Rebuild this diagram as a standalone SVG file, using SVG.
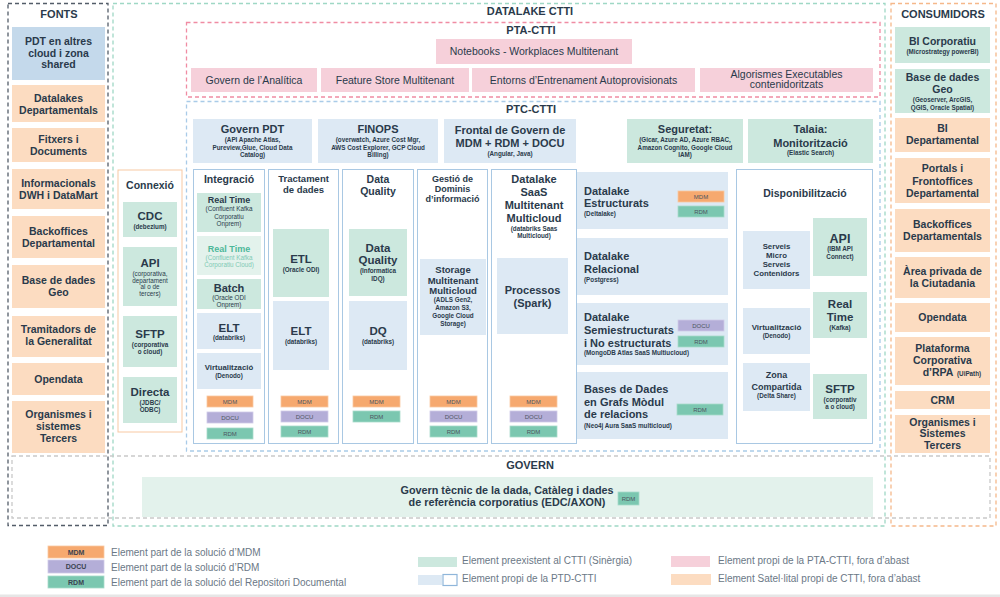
<svg xmlns="http://www.w3.org/2000/svg" width="1000" height="597" viewBox="0 0 1000 597">
<style>
text{font-family:'Liberation Sans',Arial,sans-serif;fill:#2a3a4b;text-anchor:middle}
.h{font-weight:bold;font-size:10.5px}
.h11{font-weight:bold;font-size:11px}
.h9{font-weight:bold;font-size:9px}
.h8{font-weight:bold;font-size:7.8px}
.big{font-weight:bold;font-size:11.5px}
.n{font-size:10.5px}
.s{font-weight:bold;font-size:6.3px}
.sn{font-size:6.3px}
.st{text-anchor:start}
.lg{font-size:10px;fill:#6b7886;text-anchor:start}
.tg{font-size:6px;fill:#4d5560}
.tgl{font-size:7px;font-weight:bold;fill:#3a4350}
.bl{fill:#dde9f4}
.gr{fill:#cce8de}
.lgr{fill:#e3f2ec}
.pk{fill:#f6d0da}
.or{fill:#fcdcc1}
.col{fill:#fff;stroke:#a9c8e3;stroke-width:1}
.mdm{fill:#f6a96f;stroke:#f9c8a0;stroke-width:0.8}
.docu{fill:#b4aed8;stroke:#d0cbe8;stroke-width:0.8}
.rdm{fill:#7bc7b0;stroke:#a8dbcb;stroke-width:0.8}
.d{fill:none;stroke-width:1.3;stroke-dasharray:4 3}
</style>
<rect x="0" y="0" width="1000" height="597" fill="#ffffff"/>
<rect x="0" y="594.5" width="1000" height="2.5" fill="#e6e6e6"/>

<!-- frames -->
<g id="frames">
<rect class="d" x="8" y="3.5" width="100" height="522" stroke="#535d69"/>
<rect class="d" x="113" y="3.5" width="772" height="522.5" stroke="#9fd8c5"/>
<rect class="d" x="891" y="3.5" width="105" height="522.5" stroke="#f5b88a"/>
<rect class="d" x="186.5" y="22.5" width="693.5" height="74.5" stroke="#f08ca3"/>
<rect class="d" x="186.5" y="101.5" width="693.5" height="349.5" stroke="#a9cbe8"/>
<rect class="d" x="12" y="456" width="978" height="62" stroke="#c9c9c9"/>
<text class="h11" x="59" y="18">FONTS</text>
<text class="h11" x="530" y="15">DATALAKE CTTI</text>
<text class="h11" x="943" y="18">CONSUMIDORS</text>
<text class="h11" x="531" y="34">PTA-CTTI</text>
<text class="h11" x="531" y="113">PTC-CTTI</text>
<text class="h11" x="530" y="469">GOVERN</text>
</g>

<!-- FONTS -->
<g id="f-pdt"><rect x="12" y="27" width="93" height="53" fill="#c4d9eb"/><text class="h"><tspan x="58.5" y="45">PDT en altres</tspan><tspan x="58.5" y="57">cloud i zona</tspan><tspan x="58.5" y="68">shared</tspan></text></g>
<g id="f-datalakes"><rect class="or" x="12" y="85" width="93" height="37"/><text class="h"><tspan x="58.5" y="102">Datalakes</tspan><tspan x="58.5" y="114">Departamentals</tspan></text></g>
<g id="f-fitxers"><rect class="or" x="12" y="128" width="93" height="34"/><text class="h"><tspan x="58.5" y="143">Fitxers i</tspan><tspan x="58.5" y="155">Documents</tspan></text></g>
<g id="f-informacionals"><rect class="or" x="12" y="169" width="93" height="40"/><text class="h"><tspan x="58.5" y="187">Informacionals</tspan><tspan x="58.5" y="199">DWH i DataMart</tspan></text></g>
<g id="f-backoffices"><rect class="or" x="12" y="216" width="93" height="42"/><text class="h"><tspan x="58.5" y="235">Backoffices</tspan><tspan x="58.5" y="247">Departamental</tspan></text></g>
<g id="f-geo"><rect class="or" x="12" y="265" width="93" height="43"/><text class="h"><tspan x="58.5" y="284">Base de dades</tspan><tspan x="58.5" y="296">Geo</tspan></text></g>
<g id="f-tramitadors"><rect class="or" x="12" y="316" width="93" height="41"/><text class="h"><tspan x="58.5" y="333">Tramitadors de</tspan><tspan x="58.5" y="345">la Generalitat</tspan></text></g>
<g id="f-opendata"><rect class="or" x="12" y="363" width="93" height="32"/><text class="h" x="58.5" y="383">Opendata</text></g>
<g id="f-organismes"><rect class="or" x="12" y="401" width="93" height="52"/><text class="h"><tspan x="58.5" y="418">Organismes i</tspan><tspan x="58.5" y="430">sistemes</tspan><tspan x="58.5" y="442">Tercers</tspan></text></g>

<!-- CONSUMIDORS -->
<g id="c-bicorp"><rect class="gr" x="895" y="27" width="95" height="36"/><text class="h" x="942.5" y="45">BI Corporatiu</text><text class="s" x="942.5" y="54">(Microstrategy powerBI)</text></g>
<g id="c-geo"><rect class="gr" x="895" y="69" width="95" height="44"/><text class="h"><tspan x="942.5" y="81">Base de dades</tspan><tspan x="942.5" y="93">Geo</tspan></text><text class="s"><tspan x="942.5" y="102">(Geoserver, ArcGIS,</tspan><tspan x="942.5" y="110">QGIS, Oracle Spatial)</tspan></text></g>
<g id="c-bidep"><rect class="or" x="895" y="118" width="95" height="34"/><text class="h"><tspan x="942.5" y="132">BI</tspan><tspan x="942.5" y="144">Departamental</tspan></text></g>
<g id="c-portals"><rect class="or" x="895" y="158" width="95" height="45"/><text class="h"><tspan x="942.5" y="172">Portals i</tspan><tspan x="942.5" y="185">Frontoffices</tspan><tspan x="942.5" y="197">Departamental</tspan></text></g>
<g id="c-backoffices"><rect class="or" x="895" y="209" width="95" height="43"/><text class="h"><tspan x="942.5" y="228">Backoffices</tspan><tspan x="942.5" y="240">Departamentals</tspan></text></g>
<g id="c-area"><rect class="or" x="895" y="257" width="95" height="41"/><text class="h"><tspan x="942.5" y="275">Àrea privada de</tspan><tspan x="942.5" y="287">la Ciutadania</tspan></text></g>
<g id="c-opendata"><rect class="or" x="895" y="303" width="95" height="29"/><text class="h" x="942.5" y="321">Opendata</text></g>
<g id="c-rpa"><rect class="or" x="895" y="337" width="95" height="48"/><text class="h"><tspan x="942.5" y="352">Plataforma</tspan><tspan x="942.5" y="364">Corporativa</tspan><tspan x="938" y="376">d’RPA </tspan></text><text class="s st" x="957" y="376">(UiPath)</text></g>
<g id="c-crm"><rect class="or" x="895" y="391" width="95" height="18"/><text class="h" x="942.5" y="404">CRM</text></g>
<g id="c-organismes"><rect class="or" x="895" y="415" width="95" height="38"/><text class="h"><tspan x="942.5" y="426">Organismes i</tspan><tspan x="942.5" y="437">Sistemes</tspan><tspan x="942.5" y="449">Tercers</tspan></text></g>

<!-- PTA -->
<g id="pta-notebooks"><rect class="pk" x="436" y="39" width="196" height="25"/><text class="n" x="534" y="55">Notebooks - Workplaces Multitenant</text></g>
<g id="pta-govern"><rect class="pk" x="191" y="68" width="126" height="24"/><text class="n" x="254" y="84">Govern de l’Analítica</text></g>
<g id="pta-feature"><rect class="pk" x="321" y="68" width="148" height="24"/><text class="n" x="395" y="84">Feature Store Multitenant</text></g>
<g id="pta-entorns"><rect class="pk" x="472" y="68" width="223" height="24"/><text class="n" x="583.5" y="84">Entorns d’Entrenament Autoprovisionats</text></g>
<g id="pta-algorismes"><rect class="pk" x="700" y="68" width="173" height="24"/><text class="n"><tspan x="786.5" y="78">Algorismes Executables</tspan><tspan x="786.5" y="88">contenidoritzats</tspan></text></g>

<!-- PTC top row -->
<g id="ptc-governpdt"><rect class="bl" x="193" y="119" width="119" height="44"/><text class="h11" x="252.5" y="133">Govern PDT</text><text class="s"><tspan x="252.5" y="142">(API Apache Atlas,</tspan><tspan x="252.5" y="149.5">Pureview,Glue, Cloud Data</tspan><tspan x="252.5" y="157">Catalog)</tspan></text></g>
<g id="ptc-finops"><rect class="bl" x="318" y="119" width="120" height="44"/><text class="h11" x="378" y="133">FINOPS</text><text class="s"><tspan x="378" y="142">(overwatch, Azure Cost Mgr,</tspan><tspan x="378" y="149.5">AWS Cost Explorer, GCP Cloud</tspan><tspan x="378" y="157">Billing)</tspan></text></g>
<g id="ptc-frontal"><rect class="bl" x="444" y="119" width="132" height="44"/><text class="h11"><tspan x="510" y="134">Frontal de Govern de</tspan><tspan x="510" y="147">MDM + RDM + DOCU</tspan></text><text class="s" x="510" y="156">(Angular, Java)</text></g>
<g id="ptc-seguretat"><rect class="gr" x="627" y="119" width="116" height="44"/><text class="h11" x="685" y="133">Seguretat:</text><text class="s"><tspan x="685" y="142">(Gicar, Azure AD, Azure RBAC,</tspan><tspan x="685" y="149.5">Amazon Cognito, Google Cloud</tspan><tspan x="685" y="157">IAM)</tspan></text></g>
<g id="ptc-talaia"><rect class="gr" x="748" y="119" width="125" height="44"/><text class="h11"><tspan x="810.5" y="133">Talaia:</tspan><tspan x="810.5" y="147">Monitorització</tspan></text><text class="s" x="810.5" y="155">(Elastic Search)</text></g>

<!-- Connexio -->
<g id="connexio"><rect x="118" y="170" width="64" height="262" fill="#fff" stroke="#f8c9a3" stroke-width="1"/><text class="h" x="150" y="189">Connexió</text></g>
<g id="cx-cdc"><rect class="gr" x="123" y="202" width="54" height="35"/><text class="big" x="150" y="220">CDC</text><text class="s" x="150" y="229">(debezium)</text></g>
<g id="cx-api"><rect class="gr" x="123" y="247" width="54" height="59"/><text class="big" x="150" y="267">API</text><text class="sn"><tspan x="150" y="276">(corporativa,</tspan><tspan x="150" y="282.5">departament</tspan><tspan x="150" y="289">al o de</tspan><tspan x="150" y="295.5">tercers)</tspan></text></g>
<g id="cx-sftp"><rect class="gr" x="123" y="316" width="54" height="51"/><text class="big" x="150" y="338">SFTP</text><text class="s"><tspan x="150" y="346.5">(corporativa</tspan><tspan x="150" y="353.5">o cloud)</tspan></text></g>
<g id="cx-directa"><rect class="gr" x="123" y="377" width="54" height="46"/><text class="big" x="150" y="396">Directa</text><text class="s"><tspan x="150" y="405">(JDBC/</tspan><tspan x="150" y="412">ODBC)</tspan></text></g>

<!-- Integracio -->
<g id="integracio"><rect class="col" x="193.5" y="169.5" width="71" height="274"/><text class="h" x="229" y="183">Integració</text></g>
<g id="int-rt1"><rect class="gr" x="197" y="193" width="64" height="39"/><text class="h9" x="229" y="203">Real Time</text><text class="sn"><tspan x="229" y="211">(Confluent Kafka</tspan><tspan x="229" y="218.5">Corporatiu</tspan><tspan x="229" y="226">Onprem)</tspan></text></g>
<g id="int-rt2"><rect class="lgr" x="197" y="236" width="64" height="39"/><text class="h9" x="229" y="252" style="fill:#4db89a">Real Time</text><text class="sn" style="fill:#7fcab5"><tspan x="229" y="260">(Confluent Kafka</tspan><tspan x="229" y="267">Corporatiu Cloud)</tspan></text></g>
<g id="int-batch"><rect class="gr" x="197" y="279" width="64" height="30"/><text class="h11" x="229" y="292">Batch</text><text class="sn"><tspan x="229" y="300">(Oracle ODI</tspan><tspan x="229" y="307">Onprem)</tspan></text></g>
<g id="int-elt"><rect class="bl" x="197" y="313" width="64" height="36"/><text class="big" x="229" y="332">ELT</text><text class="s" x="229" y="340">(databriks)</text></g>
<g id="int-virt"><rect class="bl" x="197" y="353" width="64" height="36"/><text class="h8" x="229" y="370">Virtualització</text><text class="s" x="229" y="378">(Denodo)</text></g>
<g id="int-tags"><rect class="mdm" x="207" y="396" width="46" height="11"/><text class="tg" x="230" y="403.5">MDM</text><rect class="docu" x="207" y="412" width="46" height="11"/><text class="tg" x="230" y="419.5">DOCU</text><rect class="rdm" x="207" y="428" width="46" height="11"/><text class="tg" x="230" y="435.5">RDM</text></g>

<!-- Tractament -->
<g id="tractament"><rect class="col" x="268.5" y="169.5" width="70" height="274"/><text class="h9" style="font-size:9.5px"><tspan x="303.5" y="182">Tractament</tspan><tspan x="303.5" y="193">de dades</tspan></text></g>
<g id="tr-etl"><rect class="gr" x="273" y="229" width="56" height="68"/><text class="big" x="301" y="263">ETL</text><text class="s" x="301" y="272">(Oracle ODI)</text></g>
<g id="tr-elt"><rect class="bl" x="273" y="301" width="56" height="69"/><text class="big" x="301" y="335">ELT</text><text class="s" x="301" y="344">(databriks)</text></g>
<g id="tr-tags"><rect class="mdm" x="281" y="396" width="47" height="11"/><text class="tg" x="304.5" y="403.5">MDM</text><rect class="docu" x="281" y="411" width="47" height="11"/><text class="tg" x="304.5" y="418.5">DOCU</text><rect class="rdm" x="281" y="426" width="47" height="11"/><text class="tg" x="304.5" y="433.5">RDM</text></g>

<!-- Data Quality -->
<g id="dataquality"><rect class="col" x="342.5" y="169.5" width="71" height="274"/><text class="h"><tspan x="378" y="183">Data</tspan><tspan x="378" y="195">Quality</tspan></text></g>
<g id="dq-idq"><rect class="gr" x="349" y="229" width="58" height="67"/><text class="big"><tspan x="378" y="252">Data</tspan><tspan x="378" y="264">Quality</tspan></text><text class="s"><tspan x="378" y="273">(Informatica</tspan><tspan x="378" y="281">IDQ)</tspan></text></g>
<g id="dq-dq"><rect class="bl" x="349" y="301" width="58" height="69"/><text class="big" x="378" y="335">DQ</text><text class="s" x="378" y="344">(databriks)</text></g>
<g id="dq-tags"><rect class="mdm" x="353" y="396" width="47" height="11"/><text class="tg" x="376.5" y="403.5">MDM</text><rect class="rdm" x="353" y="411" width="47" height="11"/><text class="tg" x="376.5" y="418.5">RDM</text></g>

<!-- Gestio de Dominis -->
<g id="gestio"><rect class="col" x="417.5" y="169.5" width="70" height="274"/><text class="h9"><tspan x="452.5" y="182">Gestió de</tspan><tspan x="452.5" y="192">Dominis</tspan><tspan x="452.5" y="202">d’informació</tspan></text></g>
<g id="ge-storage"><rect class="bl" x="420" y="259" width="66" height="76"/><text class="h9" style="font-size:9.5px"><tspan x="453" y="273">Storage</tspan><tspan x="453" y="284">Multitenant</tspan><tspan x="453" y="294">Multicloud</tspan></text><text class="s"><tspan x="453" y="302">(ADLS Gen2,</tspan><tspan x="453" y="310">Amazon S3,</tspan><tspan x="453" y="318">Google Cloud</tspan><tspan x="453" y="326">Storage)</tspan></text></g>
<g id="ge-tags"><rect class="mdm" x="430" y="396" width="47" height="11"/><text class="tg" x="453.5" y="403.5">MDM</text><rect class="docu" x="430" y="411" width="47" height="11"/><text class="tg" x="453.5" y="418.5">DOCU</text><rect class="rdm" x="430" y="426" width="47" height="11"/><text class="tg" x="453.5" y="433.5">RDM</text></g>

<!-- Datalake SaaS -->
<g id="saas"><rect class="col" x="491.5" y="169.5" width="85" height="274"/><text class="h11"><tspan x="534" y="183">Datalake</tspan><tspan x="534" y="196">SaaS</tspan><tspan x="534" y="209">Multitenant</tspan><tspan x="534" y="222">Multicloud</tspan></text><text class="s"><tspan x="534" y="231">(databriks Saas</tspan><tspan x="534" y="238">Multicloud)</tspan></text></g>
<g id="sa-processos"><rect class="bl" x="497" y="258" width="71" height="76"/><text class="h11"><tspan x="532.5" y="294">Processos</tspan><tspan x="532.5" y="307">(Spark)</tspan></text></g>
<g id="sa-tags"><rect class="mdm" x="510" y="396" width="47" height="11"/><text class="tg" x="533.5" y="403.5">MDM</text><rect class="docu" x="510" y="411" width="47" height="11"/><text class="tg" x="533.5" y="418.5">DOCU</text><rect class="rdm" x="510" y="426" width="47" height="11"/><text class="tg" x="533.5" y="433.5">RDM</text></g>

<!-- Datalakes -->
<g id="dl-estructurats"><rect class="bl" x="577" y="172" width="151" height="57"/><text class="h11 st"><tspan x="584" y="195">Datalake</tspan><tspan x="584" y="207">Estructurats</tspan></text><text class="s st" x="584" y="216">(Deltalake)</text><rect class="mdm" x="678" y="191" width="46" height="11"/><text class="tg" x="701" y="198.5">MDM</text><rect class="rdm" x="678" y="206" width="46" height="11"/><text class="tg" x="701" y="213.5">RDM</text></g>
<g id="dl-relacional"><rect class="bl" x="577" y="238" width="151" height="57"/><text class="h11 st"><tspan x="584" y="260">Datalake</tspan><tspan x="584" y="273">Relacional</tspan></text><text class="s st" x="584" y="282">(Postgress)</text></g>
<g id="dl-semi"><rect class="bl" x="577" y="303" width="151" height="62"/><text class="h11 st"><tspan x="584" y="321">Datalake</tspan><tspan x="584" y="334">Semiestructurats</tspan><tspan x="584" y="347">i No estructurats</tspan></text><text class="s st" x="584" y="355">(MongoDB Atlas SaaS Multiucloud)</text><rect class="docu" x="678" y="320" width="46" height="11"/><text class="tg" x="701" y="327.5">DOCU</text><rect class="rdm" x="678" y="336" width="46" height="11"/><text class="tg" x="701" y="343.5">RDM</text></g>
<g id="dl-grafs"><rect class="bl" x="577" y="372" width="151" height="67"/><text class="h11 st"><tspan x="584" y="393">Bases de Dades</tspan><tspan x="584" y="406">en Grafs Mòdul</tspan><tspan x="584" y="418">de relacions</tspan></text><text class="s st" x="584" y="428">(Neo4j Aura SaaS multicloud)</text><rect class="rdm" x="677" y="404" width="46" height="11"/><text class="tg" x="700" y="411.5">RDM</text></g>

<!-- Disponibilitzacio -->
<g id="disponibilitzacio"><rect class="col" x="736.5" y="169.5" width="136" height="274"/><text class="h" x="805" y="197">Disponibilització</text></g>
<g id="di-serveis"><rect class="bl" x="743" y="231" width="67" height="58"/><text class="h8"><tspan x="776.5" y="249">Serveis</tspan><tspan x="776.5" y="258">Micro</tspan><tspan x="776.5" y="267">Serveis</tspan><tspan x="776.5" y="275.5">Contenidors</tspan></text></g>
<g id="di-api"><rect class="gr" x="813" y="218" width="54" height="58"/><text class="big" style="font-size:12.5px" x="840" y="243">API</text><text class="s"><tspan x="840" y="251">(IBM API</tspan><tspan x="840" y="259">Connect)</tspan></text></g>
<g id="di-virt"><rect class="bl" x="743" y="308" width="67" height="46"/><text class="h8" style="font-size:8px" x="776.5" y="330">Virtualització</text><text class="s" x="776.5" y="338">(Denodo)</text></g>
<g id="di-rt"><rect class="gr" x="813" y="292" width="54" height="46"/><text class="big"><tspan x="840" y="308">Real</tspan><tspan x="840" y="321">Time</tspan></text><text class="s" x="840" y="330">(Kafka)</text></g>
<g id="di-zona"><rect class="bl" x="743" y="363" width="67" height="48"/><text class="h9"><tspan x="776.5" y="378">Zona</tspan><tspan x="776.5" y="390">Compartida</tspan></text><text class="s" x="776.5" y="398">(Delta Share)</text></g>
<g id="di-sftp"><rect class="gr" x="813" y="374" width="54" height="45"/><text class="big" x="840" y="393">SFTP</text><text class="s"><tspan x="840" y="402">(corporativ</tspan><tspan x="840" y="409">a o cloud)</tspan></text></g>

<!-- GOVERN -->
<g id="govern-edc"><rect class="lgr" x="142" y="477" width="731" height="40"/><text class="h" style="font-size:10.8px"><tspan x="507" y="494">Govern tècnic de la dada, Catàleg i dades</tspan><tspan x="507" y="506">de referència corporatius (EDC/AXON)</tspan></text><rect class="rdm" x="618" y="492" width="21" height="13"/><text class="tg" x="628.5" y="500.5">RDM</text></g>

<!-- Legend -->
<g id="legend">
<rect class="mdm" x="48" y="546" width="56" height="12"/><text class="tgl" x="76" y="554.5">MDM</text>
<rect class="docu" x="48" y="560" width="56" height="13"/><text class="tgl" x="76" y="569">DOCU</text>
<rect class="rdm" x="48" y="576" width="56" height="12"/><text class="tgl" x="76" y="584.5">RDM</text>
<text class="lg" x="111" y="556">Element part de la solució d’MDM</text>
<text class="lg" x="111" y="571">Element part de la solució d’RDM</text>
<text class="lg" x="111" y="586">Element part de la solució del Repositori Documental</text>
<rect class="gr" x="418" y="557" width="39" height="10"/>
<text class="lg" x="462" y="564">Element preexistent al CTTI (Sinèrgia)</text>
<rect class="bl" x="418" y="575" width="24" height="10"/>
<rect x="443" y="574.5" width="14" height="11" fill="#fff" stroke="#8fb6da" stroke-width="1.2"/>
<text class="lg" x="462" y="582">Element propi de la PTD-CTTI</text>
<rect class="pk" x="671" y="556" width="39" height="11"/>
<text class="lg" x="718" y="564">Element propi de la PTA-CTTI, fora d’abast</text>
<rect class="or" x="671" y="574" width="40" height="11"/>
<text class="lg" x="718" y="582">Element Satel·lital propi de CTTI, fora d’abast</text>
</g>
</svg>
